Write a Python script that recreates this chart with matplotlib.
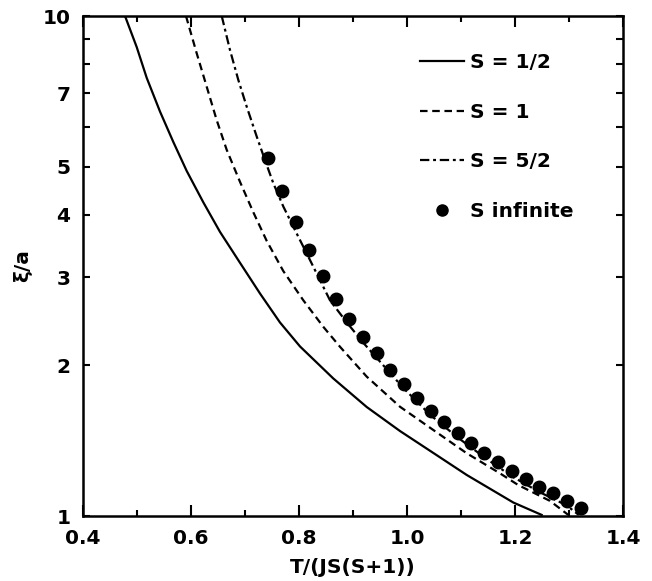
import numpy as np
import matplotlib
matplotlib.use("Agg")
import matplotlib.pyplot as plt
from matplotlib.ticker import FixedLocator, NullFormatter

# ---- data
x_half = [0.4778, 0.4994, 0.5180, 0.5426, 0.5672, 0.5920, 0.6228, 0.6537,
          0.6907, 0.7278, 0.7648, 0.8019, 0.8635, 0.9254, 0.9870, 1.0487,
          1.1106, 1.1969, 1.2494]
y_half = [10.0, 8.67, 7.52, 6.44, 5.60, 4.90, 4.24, 3.70,
          3.21, 2.786, 2.438, 2.183, 1.884, 1.652, 1.479, 1.337,
          1.208, 1.064, 1.005]

x_one = [0.5907, 0.6106, 0.6291, 0.6476, 0.6661, 0.6907, 0.7154, 0.7402,
         0.7709, 0.8080, 0.8450, 0.8759, 0.9254, 0.9870, 1.0487, 1.1106,
         1.1722, 1.2061, 1.2648, 1.2987]
y_one = [10.0, 8.42, 7.22, 6.19, 5.40, 4.66, 4.05, 3.55,
         3.09, 2.70, 2.39, 2.18, 1.90, 1.654, 1.486, 1.335,
         1.217, 1.153, 1.072, 1.005]

x_52 = [0.6569, 0.6722, 0.6876, 0.7031, 0.7217, 0.7370, 0.7524, 0.7709,
        0.7926, 0.8143, 0.8357, 0.8574, 0.8883, 0.9191, 0.9441, 0.9939,
        1.0439, 1.0941, 1.1435, 1.1944, 1.2450, 1.2957, 1.3180]
y_52 = [10.0, 8.55, 7.45, 6.59, 5.74, 5.15, 4.63, 4.16,
        3.73, 3.35, 3.01, 2.70, 2.44, 2.22, 2.07, 1.80,
        1.59, 1.435, 1.31, 1.20, 1.117, 1.05, 1.005]

x_inf = [0.7431, 0.7691, 0.7939, 0.8191, 0.8439, 0.8685, 0.8935, 0.9191,
         0.9441, 0.9685, 0.9939, 1.0191, 1.0439, 1.0685, 1.0941, 1.1185,
         1.1435, 1.1694, 1.1944, 1.2204, 1.2450, 1.2709, 1.2957, 1.3217]
y_inf = [5.19, 4.46, 3.87, 3.41, 3.02, 2.72, 2.48, 2.28,
         2.12, 1.956, 1.834, 1.722, 1.622, 1.542, 1.466, 1.400,
         1.337, 1.284, 1.231, 1.186, 1.144, 1.110, 1.073, 1.038]

labels = ["S = 1/2", "S = 1", "S = 5/2", "S infinite"]
xticks = [0.4, 0.6, 0.8, 1.0, 1.2, 1.4]
yticks = [1, 2, 3, 4, 5, 7, 10]

plt.rcParams["font.family"] = "DejaVu Sans"
plt.rcParams["font.weight"] = "bold"

fig = plt.figure(figsize=(6.52, 5.81), dpi=100)
ax = fig.add_axes([83 / 652, 1 - 516 / 581, 540 / 652, 500 / 581])

lw = 1.6
ax.plot(x_half, y_half, "-", color="black", lw=lw, label=labels[0])
ax.plot(x_one, y_one, color="black", lw=lw, dashes=(3.4, 2.1), label=labels[1])
ax.plot(x_52, y_52, color="black", lw=lw, dashes=(4.2, 1.7, 1.3, 1.7), label=labels[2])
ax.plot(x_inf, y_inf, "o", color="black", ms=9, label=labels[3])

ax.set_yscale("log")
ax.set_xlim(0.4, 1.4)
ax.set_ylim(1, 10)

ax.xaxis.set_major_locator(FixedLocator(xticks))
ax.xaxis.set_minor_locator(FixedLocator(np.arange(0.5, 1.4, 0.2)))
ax.set_xticklabels(["%.1f" % v for v in xticks])
ax.yaxis.set_major_locator(FixedLocator(yticks))
ax.yaxis.set_minor_locator(FixedLocator([6, 8, 9]))
ax.yaxis.set_minor_formatter(NullFormatter())
ax.set_yticklabels([str(v) for v in yticks])

ax.tick_params(which="both", direction="in", top=True, right=True,
               labelsize=14.5, width=1.5)
ax.tick_params(axis="x", which="major", length=8, pad=9)
ax.tick_params(axis="x", which="minor", length=4)
ax.tick_params(axis="y", which="both", length=5, pad=9)
for s in ax.spines.values():
    s.set_linewidth(1.8)

ax.set_xlabel("T/(JS(S+1))", fontsize=14.5, fontweight="bold", labelpad=7.5)
ax.set_ylabel("ξ/a", fontsize=14.5, fontweight="bold", labelpad=7.5)

leg = ax.legend(loc="upper left", bbox_to_anchor=((420 - 83) / 540, 1 - (53 - 16) / 500),
                frameon=False, fontsize=14.5, handlelength=2.2, handletextpad=0.3,
                labelspacing=1.52, borderpad=0, borderaxespad=0)
leg.legend_handles[3].set_markersize(8)

fig.savefig("out.png", dpi=100)
